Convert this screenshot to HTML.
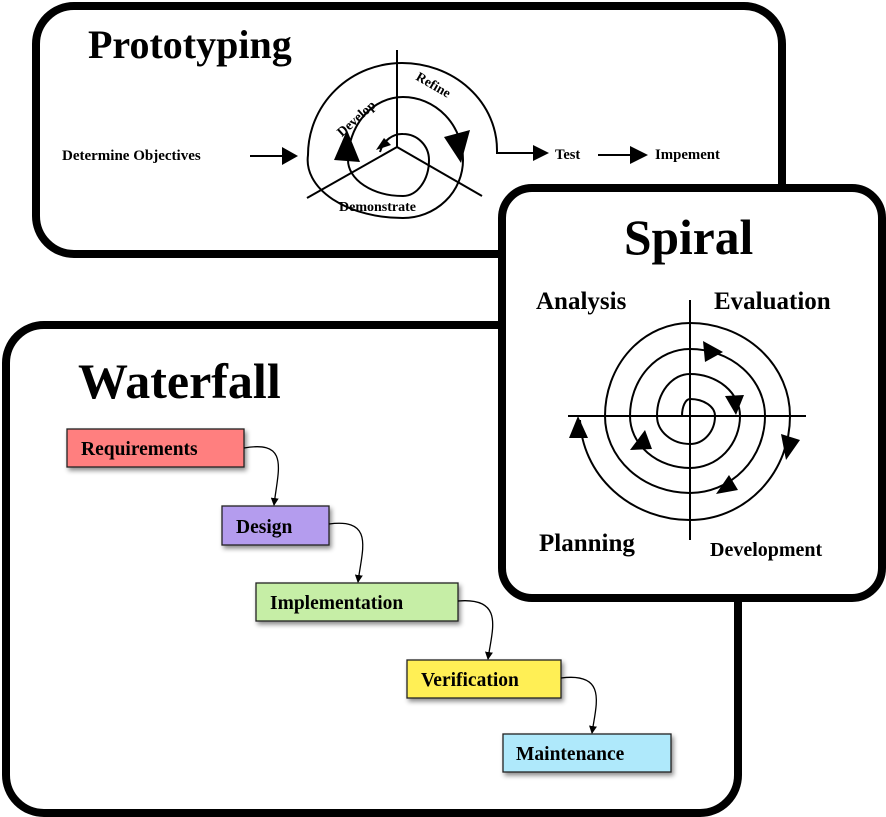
<!DOCTYPE html>
<html><head><style>body{margin:0;background:#fff}svg{display:block}text{font-family:"Liberation Serif",serif;font-weight:bold}</style></head><body>
<svg width="886" height="817" viewBox="0 0 886 817" xmlns="http://www.w3.org/2000/svg">
<defs>
<marker id="a" markerWidth="8" markerHeight="8" refX="7" refY="4" orient="auto" markerUnits="userSpaceOnUse"><path d="M0,0L8,4L0,8z"/></marker>
<filter id="sh" x="-20%" y="-30%" width="150%" height="170%"><feDropShadow dx="2" dy="3" stdDeviation="2.5" flood-opacity="0.45"/></filter>
</defs>
<!-- Prototyping frame -->
<rect x="36" y="6" width="746" height="248" rx="38" fill="#fff" stroke="#000" stroke-width="8"/>
<text x="88" y="58" font-size="40">Prototyping</text>
<text x="62" y="160" font-size="15">Determine Objectives</text>
<line x1="250" y1="156" x2="296" y2="156" stroke="#000" stroke-width="2"/>
<path d="M282,147L298,156L282,165z"/>
<g stroke="#000" stroke-width="2" fill="none">
<line x1="397" y1="50" x2="397" y2="147"/>
<line x1="397" y1="147" x2="307" y2="198"/>
<line x1="397" y1="147" x2="482" y2="196"/>
<path d="M380,152 A23,26 0 0 1 403,134 A26,26 0 0 1 429,160 A26,36 0 0 1 403,196 A55,36 0 0 1 348,160 A55,63 0 0 1 403,97 A60,63 0 0 1 463,160 A60,58 0 0 1 403,218 A95,58 0 0 1 308,155 A94,92 0 0 1 402,63 A95,87 0 0 1 497,150 L497,153 L545,153"/>
<line x1="598" y1="155" x2="635" y2="155"/>
</g>
<path d="M533,145L549,153L533,161z"/>
<path d="M630,146L648,155L630,164z"/>
<path d="M334,160L347,130L360,162z"/>
<path d="M444,137L470,130L461,163z"/>
<path d="M376,150L384,138L391,145z"/>
<text x="326" y="128" font-size="13.5" transform="rotate(-42 346 112)">Develop</text>
<text x="410" y="86" font-size="13.5" transform="rotate(30 425 92)">Refine</text>
<text x="339" y="211" font-size="14">Demonstrate</text>
<text x="555" y="159" font-size="14.5">Test</text>
<text x="655" y="159" font-size="14.8">Impement</text>
<!-- Waterfall frame -->
<rect x="6" y="325" width="732" height="488" rx="38" fill="#fff" stroke="#000" stroke-width="8"/>
<text x="78" y="398" font-size="50">Waterfall</text>
<g stroke="#222" stroke-width="1.3" filter="url(#sh)">
<rect x="67" y="429" width="177" height="38" fill="#ff7f7f"/>
<rect x="222" y="506" width="107" height="39" fill="#b49cee"/>
<rect x="256" y="583" width="202" height="38" fill="#c6eea6"/>
<rect x="407" y="660" width="154" height="38" fill="#ffef55"/>
<rect x="503" y="734" width="168" height="38" fill="#afe9fb"/>
</g>
<g font-size="19.5">
<text x="81" y="455">Requirements</text>
<text x="236" y="533">Design</text>
<text x="270" y="609">Implementation</text>
<text x="421" y="686">Verification</text>
<text x="516" y="760">Maintenance</text>
</g>
<g stroke="#000" stroke-width="1.3" fill="none" marker-end="url(#a)">
<path d="M244,448 C290,440 278,470 274,505"/>
<path d="M329,524 C375,518 362,550 358,582"/>
<path d="M458,601 C505,597 492,630 488,659"/>
<path d="M561,678 C608,672 596,705 592,733"/>
</g>
<!-- Spiral frame -->
<rect x="502" y="188" width="380" height="410" rx="30" fill="#fff" stroke="#000" stroke-width="8"/>
<text x="624" y="254" font-size="49.5">Spiral</text>
<text x="536" y="309" font-size="25">Analysis</text>
<text x="714" y="309" font-size="25">Evaluation</text>
<text x="539" y="551" font-size="25">Planning</text>
<text x="710" y="556" font-size="20">Development</text>
<g stroke="#000" stroke-width="2" fill="none">
<line x1="690" y1="300" x2="690" y2="540"/>
<line x1="568" y1="416" x2="806" y2="416"/>
<path d="M682,416 A8,17 0 0 1 690,399 A25,17 0 0 1 715,416 A25,28 0 0 1 690,444 A33,28 0 0 1 657,416 A33,42 0 0 1 690,374 A50,42 0 0 1 740,416 A50,52 0 0 1 690,468 A60,52 0 0 1 630,416 A60,67 0 0 1 690,349 A75,67 0 0 1 765,416 A75,77 0 0 1 690,493 A85,77 0 0 1 605,416 A85,93 0 0 1 690,323 A100,93 0 0 1 790,416 A100,104 0 0 1 690,520 A110,104 0 0 1 580,420"/>
</g>
<path d="M703,341L723,352L705,362z"/>
<path d="M725,396L744,395L736,415z"/>
<path d="M781,434L800,440L786,460z"/>
<path d="M729,475L716,494L738,490z"/>
<path d="M645,430L630,450L652,449z"/>
<path d="M569,438L578,416L588,438z"/>
</svg>
</body></html>
